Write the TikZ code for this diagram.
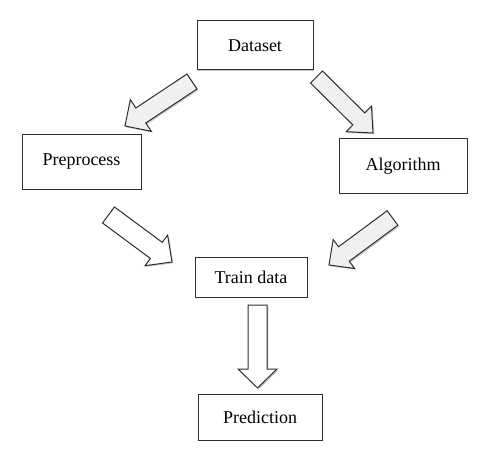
\documentclass[tikz,border=0pt]{standalone}
\usepackage{fontspec}
\setmainfont{Liberation Serif}
\usetikzlibrary{calc,shadows}
\definecolor{edge}{HTML}{2E2E2E}
\definecolor{grayfill}{HTML}{F0F0F0}
\newcommand\blockarr[6]{%
  \coordinate (#2-b) at ($(#3)!#6!(#2)$);
  \draw[#1] ($(#2)!#4!90:(#3)$) -- ($(#2-b)!#4!90:(#3)$) -- ($(#2-b)!#5!90:(#3)$) -- (#3)
    -- ($(#2-b)!#5!-90:(#3)$) -- ($(#2-b)!#4!-90:(#3)$) -- ($(#2)!#4!-90:(#3)$) -- cycle;}
\tikzset{
  box/.style={draw=edge, line width=1pt, fill=white, inner sep=0pt,
    font=\fontsize{18}{20}\selectfont,
    drop shadow={shadow xshift=1.3pt, shadow yshift=-1.3pt, fill=black, opacity=0.22}},
  grayarr/.style={draw=edge, line width=1pt, line join=miter, fill=grayfill,
    drop shadow={shadow xshift=1.3pt, shadow yshift=-1.3pt, fill=black, opacity=0.22}},
  whitearr/.style={grayarr, fill=white}
}
\begin{document}
\begin{tikzpicture}[x=1pt,y=-1pt]
\useasboundingbox[fill=white] (0,0) rectangle (481,449);
\node[box, minimum width=116pt, minimum height=49pt] (dataset) at (255,45.5) {Dataset};
\node[box, minimum width=119pt, minimum height=54pt] (pre) at (81.5,162) {Preprocess};
\node[box, minimum width=128pt, minimum height=54pt] (algo) at (403,166) {Algorithm};
\node[box, minimum width=112pt, minimum height=40pt] (train) at (251,277) {Train data};
\node[box, minimum width=124pt, minimum height=46pt] (pred) at (260,417) {Prediction};
\coordinate (t1) at (192,81.5);   \coordinate (h1) at (125,126);
\coordinate (t2) at (316.5,77);   \coordinate (h2) at (373,133);
\coordinate (t3) at (108.5,215);  \coordinate (h3) at (172,262);
\coordinate (t4) at (392.5,218);  \coordinate (h4) at (329,265);
\coordinate (t5) at (257.5,305);  \coordinate (h5) at (257.5,388);
\blockarr{grayarr}{t1}{h1}{9pt}{19pt}{19pt}
\blockarr{grayarr}{t2}{h2}{8.5pt}{18pt}{20pt}
\blockarr{whitearr}{t3}{h3}{10pt}{19pt}{19.5pt}
\blockarr{grayarr}{t4}{h4}{9pt}{18pt}{18.5pt}
\blockarr{whitearr}{t5}{h5}{9.5pt}{19.5pt}{19pt}
\end{tikzpicture}
\end{document}
